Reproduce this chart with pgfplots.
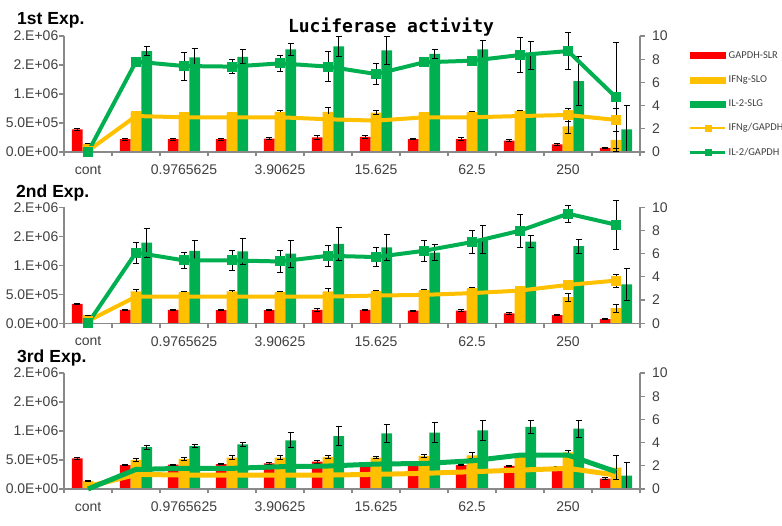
\documentclass[border=0pt]{standalone}
\usepackage{pgfplots}
\usepackage{pgfplotstable}
\pgfplotsset{compat=1.18}
\usepackage{fontspec}
\setmainfont{Liberation Sans}
\newfontfamily\legfont{Carlito}
\newfontfamily\titlefont{DejaVu Sans Mono}
\definecolor{cRed}{HTML}{FF0000}
\definecolor{cOra}{HTML}{FFC000}
\definecolor{cGrn}{HTML}{00B050}
\definecolor{axgray}{HTML}{898989}
\definecolor{lblgray}{HTML}{404040}

% values of bars in units of 1E+06
\pgfplotstableread{
x red redE ora oraE grn grnE ifn ifnE il2 il2E
0 0.39 0.02 0.14 0.0 0 0 0.1 0 0 0
1 0.22 0.015 0.68 0.01 1.74 0.075 3.10 0.1 7.79 0.1
2 0.22 0.015 0.65 0.01 1.63 0.15 2.99 0.1 7.41 1.2
3 0.22 0.02 0.67 0.01 1.64 0.12 2.99 0.1 7.36 0.63
4 0.23 0.02 0.69 0.02 1.77 0.10 2.99 0.15 7.64 0.67
5 0.25 0.04 0.69 0.07 1.82 0.18 2.82 0.2 7.36 1.3
6 0.26 0.02 0.68 0.04 1.75 0.24 2.70 0.2 6.72 0.9
7 0.22 0.01 0.68 0.01 1.69 0.085 2.99 0.1 7.73 0.1
8 0.22 0.025 0.68 0.02 1.77 0.155 2.99 0.1 7.87 0.1
9 0.195 0.015 0.71 0.01 1.67 0.24 3.10 0.1 8.36 1.48
10 0.13 0.015 0.44 0.115 1.22 0.42 3.19 0.55 8.70 1.58
11 0.07 0.01 0.21 0.15 0.39 0.42 2.76 1.0 4.71 4.7
}\tA
\pgfplotstableread{
x red redE ora oraE grn grnE ifn ifnE il2 il2E
0 0.334 0.01 0.14 0.0 0 0 0.2 0 0 0
1 0.23 0.01 0.55 0.03 1.39 0.25 2.30 0.1 6.10 0.9
2 0.23 0.015 0.53 0.02 1.25 0.17 2.30 0.1 5.42 0.7
3 0.225 0.01 0.55 0.02 1.24 0.22 2.30 0.1 5.42 0.84
4 0.225 0.01 0.53 0.02 1.20 0.23 2.30 0.1 5.33 0.97
5 0.23 0.03 0.55 0.05 1.37 0.29 2.30 0.1 5.82 0.92
6 0.23 0.01 0.55 0.02 1.31 0.22 2.39 0.1 5.71 0.82
7 0.22 0.01 0.56 0.02 1.22 0.14 2.45 0.1 6.25 0.9
8 0.22 0.015 0.59 0.02 1.44 0.24 2.60 0.15 7.00 0.97
9 0.17 0.01 0.58 0.02 1.41 0.10 2.82 0.15 7.98 1.4
10 0.14 0.01 0.45 0.07 1.33 0.12 3.31 0.2 9.45 0.72
11 0.07 0.005 0.26 0.07 0.67 0.27 3.68 0.55 8.50 2.1
}\tB
\pgfplotstableread{
x red redE ora oraE grn grnE ifn il2
0 0.53 0.02 0.14 0.005 0 0 0.2 0
1 0.41 0.01 0.50 0.03 0.72 0.03 1.26 1.69
2 0.42 0.01 0.52 0.03 0.74 0.03 1.20 1.78
3 0.43 0.01 0.54 0.03 0.77 0.04 1.20 1.78
4 0.44 0.01 0.54 0.03 0.84 0.13 1.20 1.92
5 0.47 0.03 0.555 0.03 0.91 0.16 1.20 1.98
6 0.45 0.01 0.54 0.02 0.96 0.15 1.26 2.15
7 0.45 0.01 0.57 0.03 0.97 0.17 1.35 2.20
8 0.41 0.01 0.58 0.05 1.01 0.17 1.49 2.43
9 0.40 0.01 0.60 0.02 1.07 0.12 1.63 2.92
10 0.37 0.02 0.63 0.03 1.04 0.15 1.78 2.92
11 0.18 0.02 0.37 0.20 0.23 0.22 1.20 1.49
}\tC

\pgfplotsset{
  common/.style={
    scale only axis, width=576pt, height=116pt,
    xmin=-0.5, xmax=11.5,
    enlargelimits=false,
    axis line style={axgray, line width=1.4pt},
    tick style={axgray, line width=1.2pt},
    major tick length=4.5pt,
    tick align=outside,
    tick label style={font=\fontsize{14}{15}\selectfont, text=lblgray},
  },
  barax/.style={common,
    ymin=0, ymax=2,
    axis x line*=bottom, axis y line*=left,
    ytick={0,0.5,1,1.5,2},
    yticklabels={0.0E+00,5.0E+05,1.E+06,2.E+06,2.E+06},
    xtick={0,2,4,6,8,10},
    xticklabels={cont,0.9765625,3.90625,15.625,62.5,250},
    xtick style={draw=none},
    xticklabel style={yshift=-5pt},
    yticklabel style={inner xsep=1pt},
    ybar=0pt, bar width=10.67pt,
  },
  linax/.style={common,
    ymin=0, ymax=10,
    axis x line*=bottom, axis y line*=right,
    ytick={0,2,4,6,8,10},
    yticklabels={0,2,4,6,8,10},
    xtick={-0.5,0.5,...,11.5},
    xticklabels={},
    clip=false,
    yticklabel style={xshift=4pt},
  },
  bars/.style={draw=none, fill=#1,
    error bars/y dir=both, error bars/y explicit,
    error bars/error bar style={draw=black, line width=0.9pt},
    error bars/error mark options={rotate=90, mark size=3pt, draw=black, line width=0.9pt}},
  ratio/.style={#1, line width=4pt, mark=square*, mark size=4.5pt,
    mark options={fill=#1, draw=#1, line width=0pt}, forget plot,
    error bars/y dir=both, error bars/y explicit,
    error bars/error bar style={draw=black, line width=0.9pt},
    error bars/error mark options={rotate=90, mark size=3pt, draw=black, line width=0.9pt}},
  ratio3/.style={#1, line width=5pt, mark=none, forget plot},
}

\begin{document}
\begin{tikzpicture}
\path[use as bounding box] (0,0) rectangle (782pt,526pt);

% ---------- Panel 1 ----------
\begin{axis}[barax, at={(64pt,374pt)}, anchor=south west]
\addplot[bars=cRed] table[x=x,y=red,y error=redE]{\tA};
\addplot[bars=cOra] table[x=x,y=ora,y error=oraE]{\tA};
\addplot[bars=cGrn] table[x=x,y=grn,y error=grnE]{\tA};
\end{axis}
\begin{axis}[linax, at={(64pt,374pt)}, anchor=south west,
  legend style={at={(1.085,0.885)}, anchor=north west, draw=none, fill=none,
    font=\legfont\fontsize{10.5}{11}\selectfont, text=lblgray, row sep=11.7pt, inner sep=0pt},
  legend cell align=left]
\addlegendimage{legend image code/.code={\fill[cRed] (0pt,-3pt) rectangle (35pt,3pt);}}
\addlegendentry{GAPDH-SLR}
\addlegendimage{legend image code/.code={\fill[cOra] (0pt,-3pt) rectangle (35pt,3pt);}}
\addlegendentry{IFNg-SLO}
\addlegendimage{legend image code/.code={\fill[cGrn] (0pt,-3pt) rectangle (35pt,3pt);}}
\addlegendentry{IL-2-SLG}
\addlegendimage{legend image code/.code={\draw[cOra, line width=2.5pt] (0pt,0pt) -- (35pt,0pt); \fill[cOra] (14.5pt,-3pt) rectangle (20.5pt,3pt);}}
\addlegendentry{IFNg/GAPDH}
\addlegendimage{legend image code/.code={\draw[cGrn, line width=2.5pt] (0pt,0pt) -- (35pt,0pt); \fill[cGrn] (14.5pt,-3pt) rectangle (20.5pt,3pt);}}
\addlegendentry{IL-2/GAPDH}
\addplot[ratio=cOra] table[x=x,y=ifn,y error=ifnE]{\tA};
\addplot[ratio=cGrn] table[x=x,y=il2,y error=il2E]{\tA};
\end{axis}

% ---------- Panel 2 ----------
\begin{axis}[barax, at={(64pt,202.7pt)}, anchor=south west]
\addplot[bars=cRed] table[x=x,y=red,y error=redE]{\tB};
\addplot[bars=cOra] table[x=x,y=ora,y error=oraE]{\tB};
\addplot[bars=cGrn] table[x=x,y=grn,y error=grnE]{\tB};
\end{axis}
\begin{axis}[linax, at={(64pt,202.7pt)}, anchor=south west]
\addplot[ratio=cOra] table[x=x,y=ifn,y error=ifnE]{\tB};
\addplot[ratio=cGrn] table[x=x,y=il2,y error=il2E]{\tB};
\end{axis}

% ---------- Panel 3 ----------
\begin{axis}[barax, at={(64pt,37pt)}, anchor=south west]
\addplot[bars=cRed] table[x=x,y=red,y error=redE]{\tC};
\addplot[bars=cOra] table[x=x,y=ora,y error=oraE]{\tC};
\addplot[bars=cGrn] table[x=x,y=grn,y error=grnE]{\tC};
\end{axis}
\begin{axis}[linax, at={(64pt,37pt)}, anchor=south west]
\addplot[ratio3=cOra] table[x=x,y=ifn]{\tC};
\addplot[ratio3=cGrn] table[x=x,y=il2]{\tC};
\end{axis}

% ---------- titles ----------
\node[anchor=base, inner sep=0pt] at (391pt,493pt)
  {\titlefont\bfseries\fontsize{18}{18}\selectfont Luciferase activity};
\node[anchor=base west, inner sep=0pt] at (17pt,501pt)
  {\bfseries\fontsize{17.5}{18}\selectfont 1st\hspace{5pt}Exp.};
\node[anchor=base west, inner sep=0pt] at (16pt,328pt)
  {\bfseries\fontsize{17.5}{18}\selectfont 2nd\hspace{5pt}Exp.};
\node[anchor=base west, inner sep=0pt] at (17pt,163pt)
  {\bfseries\fontsize{17.5}{18}\selectfont 3rd\hspace{5pt}Exp.};
\end{tikzpicture}
\end{document}
